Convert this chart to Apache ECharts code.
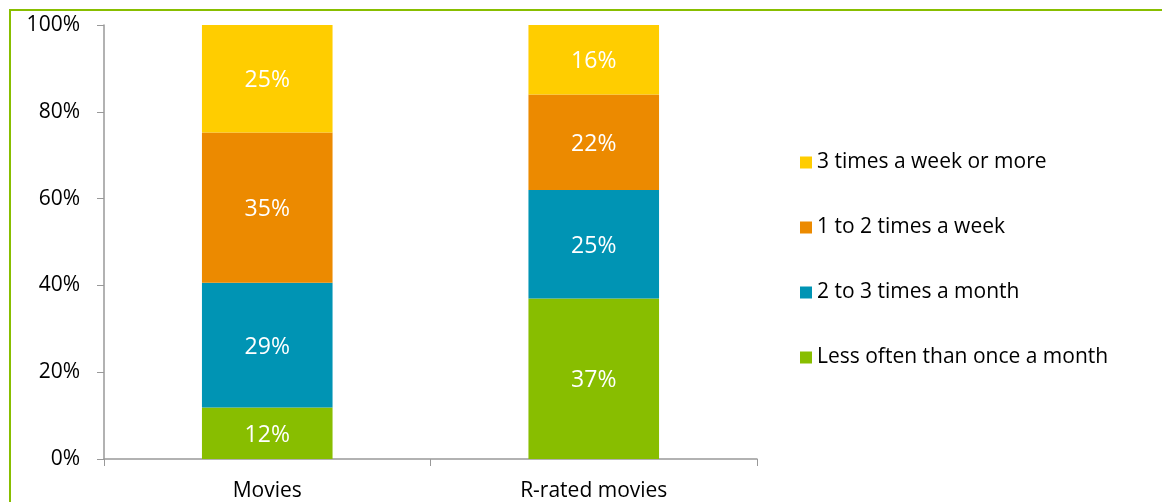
<!DOCTYPE html>
<html>
<head>
<meta charset="utf-8">
<script src="https://cdn.jsdelivr.net/npm/echarts@6/dist/echarts.min.js"></script>
<style>
html,body{margin:0;padding:0;background:#fff;}
#chart{width:1162px;height:502px;}
</style>
</head>
<body>
<div id="chart"></div>
<script>
var categories = ['Movies', 'R-rated movies'];
var seriesNames = ['Less often than once a month', '2 to 3 times a month', '1 to 2 times a week', '3 times a week or more'];
var lessOften = [12, 37];
var twoToThreeMonth = [29, 25];
var oneToTwoWeek = [35, 22];
var threePlusWeek = [25, 16];
var yTicks = [0, 20, 40, 60, 80, 100];
var colors = ['#88BE00', '#0094B4', '#EC8A00', '#FFCD00'];

var raw = [lessOften, twoToThreeMonth, oneToTwoWeek, threePlusWeek];
var totals = categories.map(function (c, i) {
  return raw.reduce(function (s, arr) { return s + arr[i]; }, 0);
});
var FONT = '"Open Sans", "Noto Sans", sans-serif';

var series = raw.map(function (arr, k) {
  return {
    name: seriesNames[k],
    type: 'bar',
    stack: 'total',
    barWidth: '40%',
    itemStyle: { color: colors[k] },
    label: {
      show: true,
      position: 'inside',
      color: '#fff',
      fontFamily: FONT,
      fontSize: 23,
      offset: [0, 2],
      formatter: function (p) { return arr[p.dataIndex] + '%'; }
    },
    data: arr.map(function (v, i) { return v / totals[i] * 100; })
  };
});

var chart = echarts.init(document.getElementById('chart'));
chart.setOption({
  animation: false,
  textStyle: { fontFamily: FONT },
  grid: { left: 104, right: 405, top: 25, bottom: 43, containLabel: false },
  legend: {
    orient: 'vertical',
    left: 795,
    top: 147,
    itemWidth: 12,
    itemHeight: 12,
    itemGap: 44,
    icon: 'rect',
    data: seriesNames.slice().reverse(),
    textStyle: { fontFamily: FONT, fontSize: 21, color: '#000' }
  },
  xAxis: {
    type: 'category',
    data: categories,
    axisLine: { lineStyle: { color: '#999', width: 1.5 } },
    axisTick: { show: true, length: 7, lineStyle: { color: '#999' } },
    axisLabel: { color: '#000', fontSize: 21, fontFamily: FONT, margin: 22 }
  },
  yAxis: {
    type: 'value',
    min: yTicks[0],
    max: yTicks[yTicks.length - 1],
    interval: yTicks[1] - yTicks[0],
    axisLine: { show: true, lineStyle: { color: '#999', width: 1.5 } },
    axisTick: { show: true, length: 7, lineStyle: { color: '#999' } },
    splitLine: { show: false },
    axisLabel: { color: '#000', fontSize: 21, fontFamily: FONT, margin: 24, formatter: '{value}%' }
  },
  graphic: [{
    type: 'rect',
    shape: { x: 10, y: 10, width: 1300, height: 700 },
    style: { fill: 'none', stroke: '#88BE00', lineWidth: 2 },
    silent: true
  }],
  series: series
});
</script>
</body>
</html>
